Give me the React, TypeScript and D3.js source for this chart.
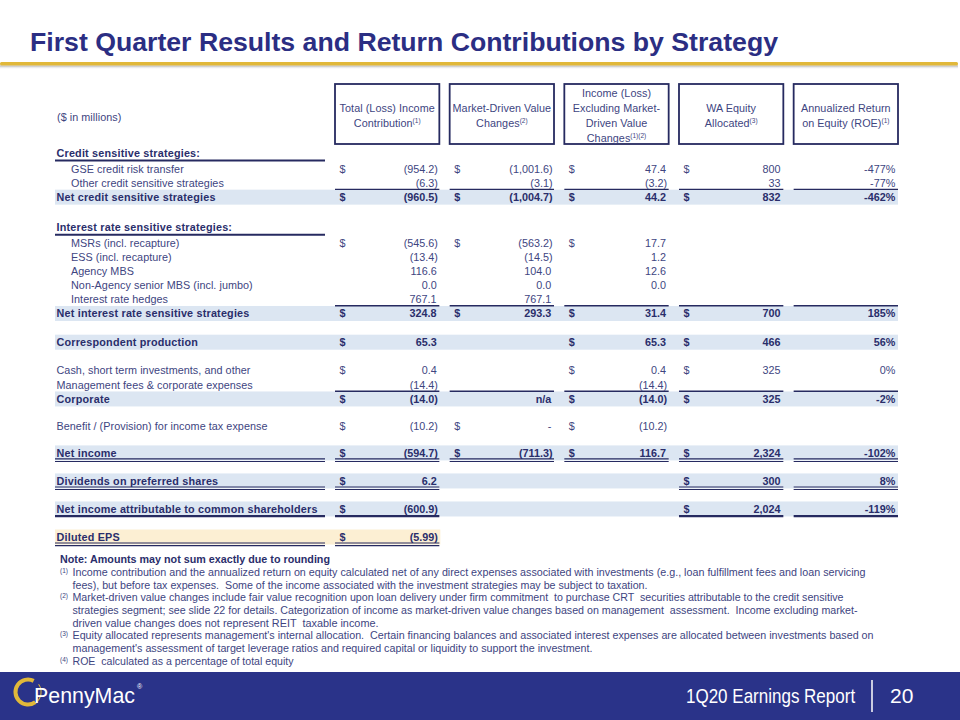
import React from "react";
import * as d3 from "d3";

// ---------- DATA ----------
const titleText = "First Quarter Results and Return Contributions by Strategy";
const unitsLabel = "($ in millions)";

const columnHeaders: [string, string][][] = [
  [["Total (Loss) Income", ""], ["Contribution", "(1)"]],
  [["Market-Driven Value", ""], ["Changes", "(2)"]],
  [["Income (Loss)", ""], ["Excluding Market-", ""], ["Driven Value", ""], ["Changes", "(1)(2)"]],
  [["WA Equity", ""], ["Allocated", "(3)"]],
  [["Annualized Return", ""], ["on Equity (ROE)", "(1)"]],
];

const rowLabels = [
  "Credit sensitive strategies:",
  "GSE credit risk transfer",
  "Other credit sensitive strategies",
  "Net credit sensitive strategies",
  "Interest rate sensitive strategies:",
  "MSRs (incl. recapture)",
  "ESS (incl. recapture)",
  "Agency MBS",
  "Non-Agency senior MBS (incl. jumbo)",
  "Interest rate hedges",
  "Net interest rate sensitive strategies",
  "Correspondent production",
  "Cash, short term investments, and other",
  "Management fees & corporate expenses",
  "Corporate",
  "Benefit / (Provision) for income tax expense",
  "Net income",
  "Dividends on preferred shares",
  "Net income attributable to common shareholders",
  "Diluted EPS",
];

// section | item | total | eps
const rowKinds = [
  "section", "item", "item", "total",
  "section", "item", "item", "item", "item", "item", "total",
  "total",
  "item", "item", "total",
  "item",
  "total", "total", "total", "eps",
];

const indentedRows = [1, 2, 5, 6, 7, 8, 9];
const dollarRows = [1, 3, 5, 10, 11, 12, 14, 15, 16, 17, 18, 19];

const totalIncome = ["", "(954.2)", "(6.3)", "(960.5)", "", "(545.6)", "(13.4)", "116.6", "0.0", "767.1", "324.8", "65.3", "0.4", "(14.4)", "(14.0)", "(10.2)", "(594.7)", "6.2", "(600.9)", "(5.99)"];
const marketDriven = ["", "(1,001.6)", "(3.1)", "(1,004.7)", "", "(563.2)", "(14.5)", "104.0", "0.0", "767.1", "293.3", "", "", "", "n/a", "-", "(711.3)", "", "", ""];
const incomeExMarket = ["", "47.4", "(3.2)", "44.2", "", "17.7", "1.2", "12.6", "0.0", "", "31.4", "65.3", "0.4", "(14.4)", "(14.0)", "(10.2)", "116.7", "", "", ""];
const waEquity = ["", "800", "33", "832", "", "", "", "", "", "", "700", "466", "325", "", "325", "", "2,324", "300", "2,024", ""];
const roe = ["", "-477%", "-77%", "-462%", "", "", "", "", "", "", "185%", "56%", "0%", "", "-2%", "", "-102%", "8%", "-119%", ""];

// underline rules: row -> [style, columns(-1 = label)]
const underlineRows: [number, string, number[]][] = [
  [0, "section", [-1]],
  [2, "single", [0, 1, 2, 3, 4]],
  [4, "section", [-1]],
  [9, "single", [0, 1, 2, 3, 4]],
  [13, "single", [0, 1, 2, 3, 4]],
  [16, "double", [-1, 0, 1, 2, 3, 4]],
  [17, "double", [-1, 0, 3, 4]],
  [18, "thick", [-1, 0, 3, 4]],
  [19, "double", [-1, 0]],
];

const noteText = "Note: Amounts may not sum exactly due to rounding";
const footnoteMarks = ["(1)", "(2)", "(3)", "(4)"];
const footnoteLines: string[][] = [
  [
    "Income contribution and the annualized return on equity calculated net of any direct expenses associated with investments (e.g., loan fulfillment fees and loan servicing",
    "fees), but before tax expenses.  Some of the income associated with the investment strategies may be subject to taxation.",
  ],
  [
    "Market-driven value changes include fair value recognition upon loan delivery under firm commitment  to purchase CRT  securities attributable to the credit sensitive",
    "strategies segment; see slide 22 for details. Categorization of income as market-driven value changes based on management  assessment.  Income excluding market-",
    "driven value changes does not represent REIT  taxable income.",
  ],
  [
    "Equity allocated represents management's internal allocation.  Certain financing balances and associated interest expenses are allocated between investments based on",
    "management's assessment of target leverage ratios and required capital or liquidity to support the investment.",
  ],
  ["ROE  calculated as a percentage of total equity"],
];

const footerReport = "1Q20 Earnings Report";
const footerPage = "20";
const brandName = "PennyMac";

// ---------- LAYOUT ----------
const W = 960;
const H = 720;
const FONT = "'Liberation Sans', Arial, sans-serif";
const C_TEXT = "#40457f";
const C_BOLD = "#2a2e6b";
const C_LINE = "#262a60";
const C_TITLE = "#2b2e83";
const C_BAND = "#dce6f2";
const C_EPS = "#fcefd3";
const C_FOOT = "#2a3389";
const C_GOLD = "#e1b83a";
const FS = 10.8;
const LS_REG = 0.05;
const LS_BOLD = 0.2;

// vertical spacing units between consecutive rows
const rowUnits = [0, 1.15, 1, 1, 2.15, 1.15, 1, 1, 1, 1, 1, 2.05, 2, 1.05, 1, 1.95, 1.9, 2, 2, 2];
// approximate rendered widths of the footnote lines
const footnoteWidths = [[793, 575], [771, 785, 306], [801, 520], [221]];

export default function App() {
  const columns = [totalIncome, marketDriven, incomeExMarket, waEquity, roe];
  const colX = d3
    .scaleBand<number>()
    .domain(d3.range(columns.length))
    .range([335, 898])
    .paddingInner(0.09)
    .paddingOuter(0);
  const bw = colX.bandwidth();
  const labelLeft = 55;
  const labelRight = 325;
  const tableRight = 898;

  const cum = Array.from(d3.cumsum(rowUnits));
  const y = d3.scaleLinear().domain([0, cum[cum.length - 1]]).range([153, 537]);
  const rowY = cum.map((u) => y(u));

  const seg = (c: number): [number, number] =>
    c < 0 ? [labelLeft, labelRight] : [colX(c)!, colX(c)! + bw];

  const lines: JSX.Element[] = [];
  underlineRows.forEach(([r, style, cols]) => {
    const yy = rowY[r];
    cols.forEach((c) => {
      const [x0, x1] = seg(c);
      const key = `${r}-${c}`;
      if (style === "section") {
        lines.push(<line key={key} x1={x0} x2={x1} y1={yy + 7.5} y2={yy + 7.5} stroke={C_LINE} strokeWidth={2} />);
      } else if (style === "single") {
        lines.push(<line key={key} x1={x0} x2={x1} y1={yy + 6.3} y2={yy + 6.3} stroke={C_LINE} strokeWidth={1.3} />);
      } else if (style === "double") {
        lines.push(<line key={key + "a"} x1={x0} x2={x1} y1={yy + 6} y2={yy + 6} stroke={C_LINE} strokeWidth={1.1} />);
        lines.push(<line key={key + "b"} x1={x0} x2={x1} y1={yy + 8.6} y2={yy + 8.6} stroke={C_LINE} strokeWidth={1.1} />);
      } else if (style === "thick") {
        lines.push(<line key={key} x1={x0} x2={x1} y1={yy + 7.2} y2={yy + 7.2} stroke={C_LINE} strokeWidth={2.3} />);
      }
    });
  });

  // logo arcs
  const logoArc = d3.arc()({
    innerRadius: 10.5,
    outerRadius: 14.5,
    startAngle: 0.8 * Math.PI,
    endAngle: 2.15 * Math.PI,
  } as any) as string;
  const logoArc2 = d3.arc()({
    innerRadius: 12.6,
    outerRadius: 13.6,
    startAngle: 0.3 * Math.PI,
    endAngle: 0.8 * Math.PI,
  } as any) as string;

  let fnY = 572.3;
  const fnStep = 12.7;

  return (
    <svg
      width={W}
      height={H}
      viewBox={`0 0 ${W} ${H}`}
      style={{ position: "absolute", left: 0, top: 0, background: "#fff" }}
      fontFamily={FONT}
    >
      <defs>
        <linearGradient id="shadow" x1="0" y1="0" x2="0" y2="1">
          <stop offset="0" stopColor="#9a9a9a" stopOpacity={0.8} />
          <stop offset="1" stopColor="#ffffff" stopOpacity={0} />
        </linearGradient>
      </defs>
      <rect x={0} y={0} width={W} height={H} fill="#fff" />

      {/* Title */}
      <text x={30} y={50.5} fontSize={26} fontWeight="bold" fill={C_TITLE} textLength={748} lengthAdjust="spacingAndGlyphs">
        {titleText}
      </text>
      <rect x={0} y={65.5} width={958} height={4} fill="url(#shadow)" />
      <rect x={0} y={62} width={958} height={3.6} fill={C_GOLD} rx={1.5} />

      {/* Units label */}
      <text x={57} y={120.5} fontSize={FS} letterSpacing={LS_REG} fill={C_TEXT}>{unitsLabel}</text>

      {/* Header boxes */}
      {columnHeaders.map((hdr, c) => {
        const cx = colX(c)! + bw / 2;
        const step = 15.2;
        const y0 = 116 - ((hdr.length - 1) * step) / 2;
        return (
          <g key={"h" + c}>
            <rect x={colX(c)!} y={84} width={bw} height={60} fill="none" stroke={C_LINE} strokeWidth={1.8} />
            {hdr.map(([t, sup], j) => (
              <text key={j} x={cx} y={y0 + j * step + 3.6} fontSize={FS} letterSpacing={LS_REG} fill={C_TEXT} textAnchor="middle">
                {t}
                {sup ? (
                  <tspan fontSize={6.5} letterSpacing={0} dy={-4}>{sup}</tspan>
                ) : null}
              </text>
            ))}
          </g>
        );
      })}

      {/* Bands */}
      {rowKinds.map((k, i) =>
        k === "total" ? (
          <rect key={"b" + i} x={labelLeft} y={rowY[i] - 7.5} width={tableRight - labelLeft} height={15} fill={C_BAND} />
        ) : k === "eps" ? (
          <rect key={"b" + i} x={labelLeft} y={rowY[i] - 7.5} width={colX(0)! + bw - labelLeft + 1} height={15} fill={C_EPS} />
        ) : null
      )}

      {lines}

      {/* Row labels */}
      {rowLabels.map((lab, i) => {
        const bold = rowKinds[i] !== "item";
        const x = indentedRows.includes(i) ? 71 : labelLeft + 1.5;
        return (
          <text key={"l" + i} x={x} y={rowY[i] + 3.8} fontSize={FS} letterSpacing={bold ? LS_BOLD : LS_REG} fontWeight={bold ? "bold" : "normal"} fill={bold ? C_BOLD : C_TEXT}>
            {lab}
          </text>
        );
      })}

      {/* Values */}
      {rowLabels.map((_, i) => {
        const bold = rowKinds[i] !== "item";
        const fill = bold ? C_BOLD : C_TEXT;
        const weight = bold ? "bold" : "normal";
        return (
          <g key={"v" + i}>
            {columns.map((col, c) => {
              const v = col[i];
              if (!v) return null;
              const right = colX(c)! + bw - 1.5 - (v.endsWith(")") ? 0 : 1.2);
              const showDollar = dollarRows.includes(i) && c < 4 && v !== "n/a";
              return (
                <g key={c}>
                  {showDollar ? (
                    <text x={colX(c)! + 4.5} y={rowY[i] + 3.8} fontSize={FS} fontWeight={weight} fill={fill}>$</text>
                  ) : null}
                  <text x={right} y={rowY[i] + 3.8} fontSize={FS} fontWeight={weight} fill={fill} textAnchor="end">
                    {v}
                  </text>
                </g>
              );
            })}
          </g>
        );
      })}

      {/* Footnotes */}
      <text x={60} y={562.5} fontSize={11} fontWeight="bold" fill={C_BOLD} textLength={270} lengthAdjust="spacingAndGlyphs">
        {noteText}
      </text>
      {footnoteLines.map((ls, k) => {
        const els = ls.map((t, j) => {
          const yy = fnY + j * fnStep;
          return (
            <g key={j}>
              {j === 0 ? (
                <text x={60} y={yy + 0.5} fontSize={6.5} fill={C_TEXT}>{footnoteMarks[k]}</text>
              ) : null}
              <text x={72.5} y={yy + 3.6} fontSize={10} fill={C_TEXT} textLength={footnoteWidths[k][j]} lengthAdjust="spacingAndGlyphs" xmlSpace="preserve">
                {t}
              </text>
            </g>
          );
        });
        fnY += ls.length * fnStep;
        return <g key={"fn" + k}>{els}</g>;
      })}

      {/* Footer */}
      <rect x={0} y={672} width={W} height={H - 672} fill={C_FOOT} />
      <g transform="translate(28,692)">
        <path d={logoArc} fill={C_GOLD} />
        <path d={logoArc2} fill={C_GOLD} />
      </g>
      <text transform="translate(34,703) scale(0.93,1)" fontSize={23} fill="#fff">{brandName}</text>
      <text x={137} y={689} fontSize={7} fill="#fff">®</text>
      <text transform="translate(686,703) scale(0.81,1)" fontSize={21} fill="#fff">{footerReport}</text>
      <line x1={872} x2={872} y1={680} y2={712} stroke="#fff" strokeWidth={1.5} />
      <text x={890} y={703} fontSize={21} fill="#fff">{footerPage}</text>
    </svg>
  );
}
